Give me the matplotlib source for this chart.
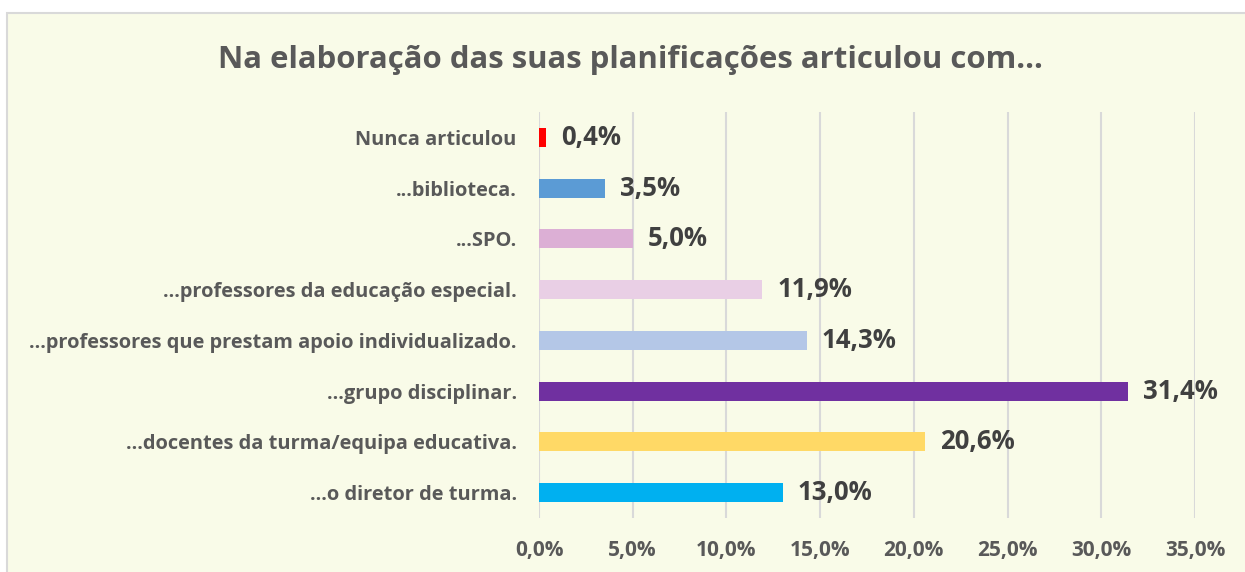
import matplotlib
matplotlib.use("Agg")
import matplotlib.pyplot as plt
from matplotlib.patches import Rectangle

# Data (bottom to top)
categories = [
    "...o diretor de turma.",
    "...docentes da turma/equipa educativa.",
    "...grupo disciplinar.",
    "...professores que prestam apoio individualizado.",
    "...professores da educação especial.",
    "...SPO.",
    "...biblioteca.",
    "Nunca articulou",
]
values = [13.0, 20.6, 31.4, 14.3, 11.9, 5.0, 3.5, 0.4]
colors = ["#00B0F0", "#FFD966", "#7030A0", "#B4C7E7",
          "#E9CFE5", "#DCAFD5", "#5B9BD5", "#FF0000"]
xticks = [0, 5, 10, 15, 20, 25, 30, 35]
title = "Na elaboração das suas planificações articulou com..."

plt.rcParams['font.family'] = ['Open Sans', 'DejaVu Sans']

W, H = 1245, 572
fig = plt.figure(figsize=(W / 100, H / 100), dpi=100)
fig.patch.set_facecolor("white")
fig.patches.append(Rectangle((7 / W, -0.02), 1.05, 1 - 13 / H + 0.02,
                             transform=fig.transFigure, facecolor="#F9FBE8",
                             edgecolor="#D9D9D9", linewidth=1.5, zorder=-10))

ax = fig.add_axes([539 / W, 1 - 518 / H, (1195 - 539) / W, (518 - 112) / H])
ax.set_facecolor("none")

y = range(len(categories))
ax.barh(y, values, height=0.37, color=colors, zorder=3)
for yi, v in zip(y, values):
    ax.annotate(f"{v:.1f}%".replace(".", ","), xy=(v, yi), xytext=(15, 0),
                textcoords="offset pixels",
                va="center", ha="left", fontsize=18.5, fontweight="bold",
                color="#404040")

ax.set_xlim(0, 35)
ax.set_ylim(-0.5, len(categories) - 0.5)
ax.set_xticks(xticks)
ax.set_xticklabels([f"{t:.1f}%".replace(".", ",") for t in xticks],
                   fontsize=15, fontweight="bold", color="#595959")
ax.set_yticks(list(y))
ax.set_yticklabels(categories, fontsize=14.4, fontweight="bold", color="#595959")
ax.tick_params(axis="x", length=0, pad=16)
ax.tick_params(axis="y", length=0, pad=16)
ax.grid(axis="x", color="#D9D9D9", linewidth=1.5, zorder=0)
for s in ax.spines.values():
    s.set_visible(False)

fig.text(630 / W, 1 - 60 / H, title, ha="center", va="center",
         fontsize=22.4, fontweight="bold", color="#595959")

fig.savefig("out.png", dpi=100, facecolor=fig.get_facecolor())
